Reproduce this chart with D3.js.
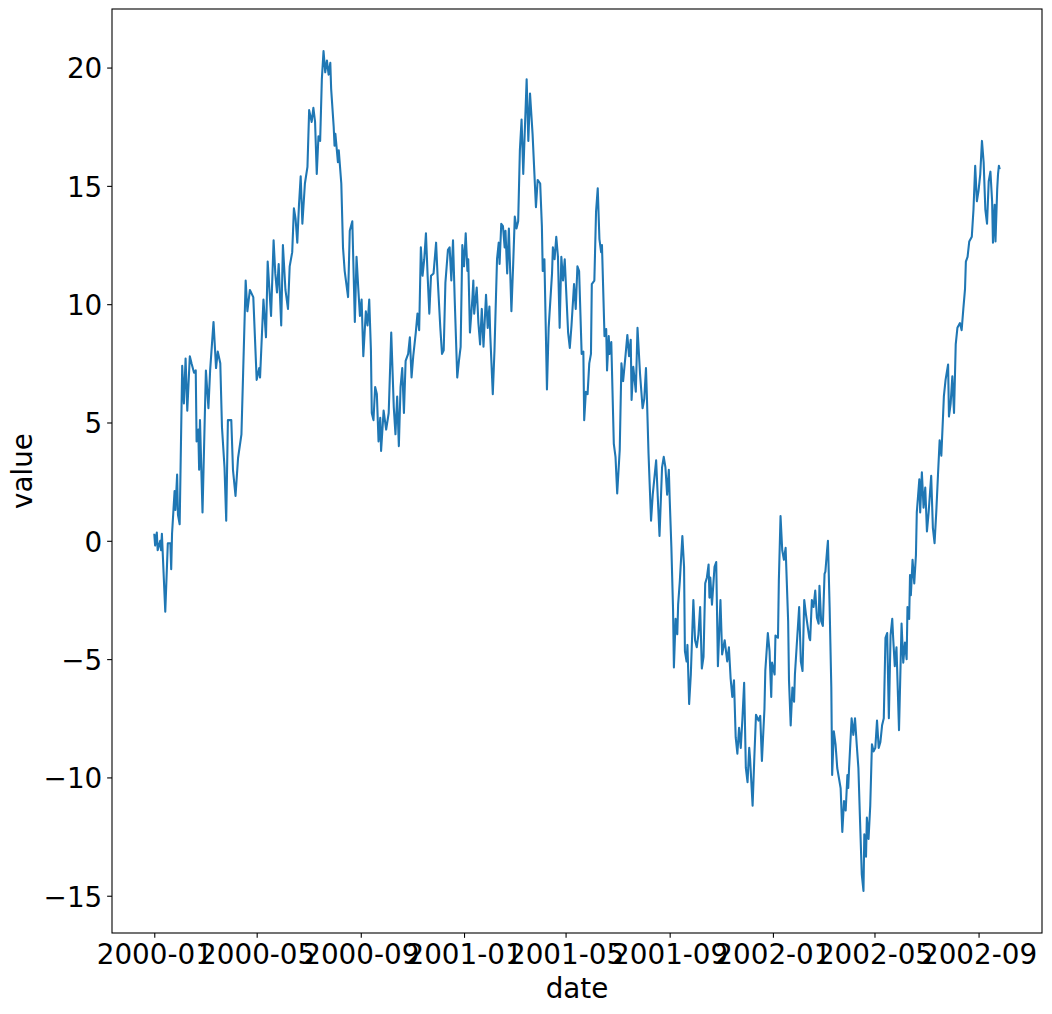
<!DOCTYPE html>
<html>
<head>
<meta charset="utf-8">
<script src="https://cdn.jsdelivr.net/npm/d3@7"></script>
<style>
body { margin: 0; background: #fff; }
text { font-family: "DejaVu Sans", sans-serif; fill: #000; }
</style>
</head>
<body>
<svg id="chart" width="1052" height="1014"></svg>
<script>
// daily random-walk (day offset from startDate, value)
var startDate = "2000-01-01";
var days = [
	0, 1, 3, 4, 7, 8, 9, 13, 16, 19, 20, 21, 24, 25, 27, 28, 30, 33, 35, 37,
	39, 42, 44, 47, 49, 50, 52, 53, 54, 57, 61, 64, 66, 70, 73, 75, 78, 80, 83, 85,
	87, 91, 93, 96, 99, 103, 105, 108, 110, 113, 117, 121, 124, 125, 129, 132, 134, 138, 141, 143,
	145, 147, 150, 152, 155, 158, 160, 163, 165, 167, 169, 171, 173, 175, 178, 181, 183, 186, 188, 190,
	192, 194, 196, 198, 200, 202, 204, 206, 208, 209, 212, 213, 214, 217, 218, 221, 223, 225, 229, 231,
	234, 237, 239, 241, 243, 245, 247, 250, 252, 254, 256, 257, 259, 261, 263, 265, 267, 268, 271, 274,
	277, 280, 283, 285, 287, 289, 291, 293, 295, 297, 300, 302, 304, 306, 309, 311, 313, 315, 317, 319,
	321, 323, 325, 327, 330, 333, 335, 338, 340, 342, 344, 347, 349, 351, 353, 355, 358, 360, 362, 364,
	366, 368, 370, 371, 373, 376, 377, 378, 381, 383, 385, 387, 389, 392, 394, 396, 397, 400, 402, 405,
	407, 408, 410, 412, 414, 415, 417, 419, 422, 424, 426, 428, 430, 432, 434, 436, 438, 440, 442, 444,
	447, 451, 453, 456, 458, 459, 461, 464, 466, 470, 471, 473, 475, 477, 479, 481, 483, 485, 489, 491,
	493, 496, 498, 500, 502, 505, 507, 508, 510, 512, 514, 516, 517, 520, 522, 524, 526, 528, 529, 532,
	534, 535, 537, 538, 540, 543, 545, 547, 550, 552, 554, 557, 559, 561, 563, 564, 566, 569, 571, 574,
	577, 579, 581, 582, 584, 587, 589, 593, 595, 597, 600, 602, 604, 606, 608, 609, 611, 613, 614, 616,
	618, 619, 621, 624, 626, 627, 629, 630, 632, 634, 637, 639, 641, 643, 645, 647, 649, 651, 653, 655,
	656, 657, 659, 662, 664, 666, 669, 671, 674, 677, 679, 681, 683, 685, 687, 689, 691, 693, 695, 697,
	699, 701, 703, 704, 707, 709, 711, 714, 716, 718, 721, 722, 725, 727, 729, 730, 733, 734, 737, 738,
	740, 742, 744, 746, 749, 750, 752, 754, 756, 757, 759, 762, 764, 766, 768, 770, 774, 775, 777, 779,
	781, 783, 785, 786, 788, 790, 792, 793, 795, 796, 798, 800, 801, 803, 805, 807, 811, 813, 815, 817,
	819, 820, 821, 824, 826, 828, 830, 832, 834, 836, 838, 839, 841, 842, 844, 846, 848, 850, 852, 854,
	856, 858, 860, 862, 864, 866, 868, 870, 872, 873, 875, 877, 880, 883, 885, 887, 889, 890, 892, 893,
	894, 896, 898, 900, 901, 904, 905, 907, 909, 911, 913, 915, 918, 920, 922, 924, 926, 928, 930, 932,
	933, 935, 938, 939, 941, 943, 945, 947, 949, 952, 954, 956, 958, 959, 961, 963, 966, 968, 970, 972,
	974, 976, 978, 980, 982, 984, 986, 988, 990, 991, 993, 994, 996, 997, 998, 999
];
var values = [
	0.3, -0.2, 0.35, -0.4, 0, -0.4, 0.3, -3.0, -0.1, -0.1, -1.2, 0.3, 2.1, 1.3, 2.8, 1.1, 0.7, 7.4, 5.8, 7.7,
	5.5, 7.8, 7.5, 7.1, 7.2, 4.2, 4.7, 3.0, 5.1, 1.2, 7.2, 5.6, 7.2, 9.25, 7.3, 8.0, 7.5, 4.8, 3.1, 0.85,
	5.1, 5.1, 3.0, 1.9, 3.5, 4.5, 7.1, 11.0, 9.7, 10.6, 10.3, 6.8, 7.3, 6.9, 10.2, 8.6, 11.8, 9.5, 12.7, 11.3,
	10.5, 11.7, 9.1, 12.5, 10.6, 9.8, 11.6, 12.2, 14.05, 13.6, 12.6, 14.2, 15.4, 13.4, 15.1, 15.8, 18.2, 17.7, 18.3, 17.7,
	15.5, 17.1, 16.9, 19.5, 20.7, 19.8, 20.3, 19.7, 20.2, 19.1, 17.5, 16.7, 17.2, 16.0, 16.5, 15.1, 12.4, 11.4, 10.3, 13.1,
	13.5, 9.25, 12.0, 10.7, 9.5, 10.2, 7.8, 9.7, 9.1, 10.2, 8.05, 5.4, 5.1, 6.5, 6.2, 4.2, 5.2, 3.8, 5.5, 4.7,
	5.4, 8.8, 5.65, 4.5, 6.1, 4.0, 6.5, 7.3, 5.4, 7.6, 7.9, 8.6, 6.9, 7.8, 8.8, 9.6, 8.9, 12.4, 11.2, 11.9,
	13.0, 11.2, 9.6, 11.2, 11.3, 12.6, 11.0, 9.0, 7.9, 8.05, 10.9, 12.3, 12.4, 11.0, 12.7, 10.2, 6.9, 7.6, 8.2, 12.5,
	11.6, 13.0, 11.4, 11.9, 8.8, 10.3, 11.0, 9.6, 10.7, 9.2, 8.3, 9.8, 8.2, 10.4, 9.0, 9.9, 8.7, 6.2, 8.05, 11.9,
	12.6, 11.7, 13.4, 13.3, 12.4, 13.1, 11.3, 13.2, 9.7, 11.6, 13.7, 13.2, 13.5, 16.5, 17.8, 15.5, 17.5, 19.5, 16.9, 18.9,
	17.2, 14.1, 15.25, 15.1, 13.3, 11.4, 11.9, 6.4, 9.0, 11.3, 12.4, 11.9, 12.85, 12.0, 9.0, 12.0, 11.0, 11.9, 8.8, 8.15,
	9.1, 10.85, 9.8, 11.6, 11.4, 7.9, 8.0, 5.1, 6.3, 6.2, 7.5, 7.9, 10.85, 11.0, 13.9, 14.9, 12.75, 12.2, 12.5, 8.65,
	8.95, 7.2, 8.65, 7.9, 8.4, 4.1, 3.55, 2.0, 3.85, 7.5, 6.75, 7.9, 8.7, 7.8, 8.5, 5.95, 7.35, 6.3, 9.0, 7.05,
	5.6, 6.0, 7.3, 6.2, 3.7, 0.85, 1.95, 3.4, 1.8, 0.2, 3.1, 3.55, 3.1, 1.95, 3.0, 1.8, -0.25, -2.9, -5.35, -3.3,
	-3.95, -2.7, -1.7, 0.2, -1.1, -4.66, -5.1, -4.4, -6.9, -5.65, -2.5, -4.2, -4.5, -3.95, -2.8, -5.4, -4.9, -1.8, -1.55, -1.0,
	-2.4, -1.55, -2.7, -1.1, -0.9, -5.3, -2.5, -4.8, -4.2, -5.1, -4.5, -5.8, -6.6, -5.9, -8.3, -9.0, -7.9, -8.75, -7.5, -6.0,
	-9.6, -10.2, -8.75, -9.2, -11.2, -9.2, -7.35, -7.6, -7.4, -9.3, -7.1, -5.5, -3.9, -4.66, -6.6, -5.15, -5.65, -4.0, -4.1, -1.7,
	1.05, -0.4, -0.8, -0.3, -3.4, -5.9, -7.8, -6.2, -6.8, -5.65, -4.5, -2.8, -5.1, -5.5, -2.5, -3.1, -4.1, -4.2, -2.5, -2.8,
	-2.1, -3.25, -3.5, -1.9, -3.4, -3.6, -1.4, -1.3, -0.4, 0.0, -2.8, -6.2, -9.9, -8.05, -8.6, -9.6, -10.45, -12.3, -11.0, -11.4,
	-9.9, -10.45, -9.6, -7.5, -8.2, -7.5, -8.6, -9.6, -11.9, -14.1, -14.8, -12.4, -13.35, -11.7, -12.6, -11.2, -8.6, -8.9, -8.75, -7.6,
	-8.75, -8.5, -7.8, -7.5, -4.1, -3.9, -7.5, -4.0, -3.3, -4.05, -5.3, -4.5, -8.0, -3.5, -5.15, -4.3, -5.0, -2.8, -3.3, -1.45,
	-2.3, -0.8, -1.8, -0.6, 1.2, 2.6, 1.2, 2.9, 1.4, 2.25, 0.4, 1.2, 2.75, 0.55, -0.1, 1.2, 2.75, 4.25, 3.6, 5.25,
	6.1, 6.8, 7.45, 5.25, 5.8, 6.95, 5.4, 8.3, 9.0, 9.2, 8.9, 9.8, 10.65, 11.8, 12.0, 12.65, 12.85, 14.0, 15.85, 14.35,
	14.8, 15.5, 16.9, 16.0, 14.0, 13.4, 15.2, 15.6, 14.35, 12.6, 14.2, 12.65, 14.85, 15.5, 15.85, 15.7
];
var xTickLabels = ["2000-01", "2000-05", "2000-09", "2001-01", "2001-05", "2001-09", "2002-01", "2002-05", "2002-09"];
var yTicks = [-15, -10, -5, 0, 5, 10, 15, 20];

var svg = d3.select("#chart");
var box = { left: 112, top: 9, right: 1042, bottom: 933 };
var tickLen = 4.86, tickPad = 4.86;
var fontSize = "27.8px";

var t0 = d3.utcParse("%Y-%m-%d")(startDate);
var data = days.map(function(d, i) {
	return { date: d3.utcDay.offset(t0, d), value: values[i] };
});

// matplotlib style 5% margins on both axes
var tExt = d3.extent(data, function(d) { return d.date; });
var tPad = (tExt[1] - tExt[0]) * 0.05;
var vExt = d3.extent(values);
var vPad = (vExt[1] - vExt[0]) * 0.05;

var x = d3.scaleUtc()
	.domain([new Date(+tExt[0] - tPad), new Date(+tExt[1] + tPad)])
	.range([box.left, box.right]);
var y = d3.scaleLinear()
	.domain([vExt[0] - vPad, vExt[1] + vPad])
	.range([box.bottom, box.top]);

var parseMonth = d3.utcParse("%Y-%m");
var xAxis = d3.axisBottom(x)
	.tickValues(xTickLabels.map(parseMonth))
	.tickFormat(d3.utcFormat("%Y-%m"))
	.tickSize(tickLen)
	.tickPadding(tickPad);
var yAxis = d3.axisLeft(y)
	.tickValues(yTicks)
	.tickFormat(function(d) { return d < 0 ? "\u2212" + Math.abs(d) : d; })
	.tickSize(tickLen)
	.tickPadding(tickPad);

var line = d3.line()
	.x(function(d) { return x(d.date); })
	.y(function(d) { return y(d.value); });

svg.append("path")
	.datum(data)
	.attr("d", line)
	.attr("fill", "none")
	.attr("stroke", "#1f77b4")
	.attr("stroke-width", 2.08)
	.attr("stroke-linejoin", "round");

var gx = svg.append("g")
	.attr("transform", "translate(0," + box.bottom + ")")
	.call(xAxis);
var gy = svg.append("g")
	.attr("transform", "translate(" + box.left + ",0)")
	.call(yAxis);

[gx, gy].forEach(function(g) {
	g.select(".domain").remove();
	g.selectAll(".tick line").attr("stroke", "#000").attr("stroke-width", 1.1);
	g.selectAll(".tick text")
		.attr("fill", "#000")
		.style("font-size", fontSize)
		.style("font-family", "DejaVu Sans, sans-serif");
});
gx.selectAll(".tick text").attr("dy", "0.78em");
gy.selectAll(".tick text").attr("dy", "0.37em");

// axes frame
svg.append("rect")
	.attr("x", box.left)
	.attr("y", box.top)
	.attr("width", box.right - box.left)
	.attr("height", box.bottom - box.top)
	.attr("fill", "none")
	.attr("stroke", "#000")
	.attr("stroke-width", 1.1);

svg.append("text")
	.text("date")
	.attr("x", (box.left + box.right) / 2)
	.attr("y", 998)
	.attr("text-anchor", "middle")
	.style("font-size", fontSize);

svg.append("text")
	.text("value")
	.attr("transform", "translate(32," + (box.top + box.bottom) / 2 + ") rotate(-90)")
	.attr("text-anchor", "middle")
	.style("font-size", fontSize);
</script>
</body>
</html>
